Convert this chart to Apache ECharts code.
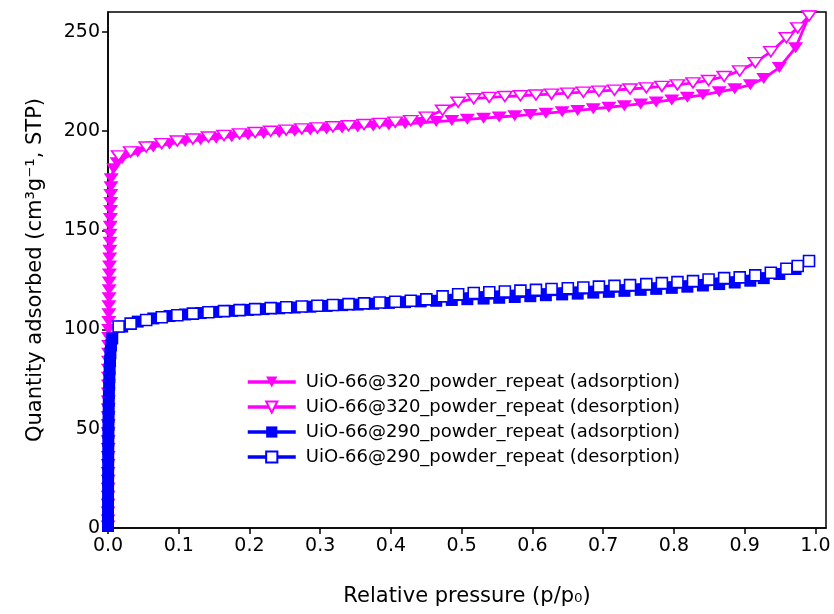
<!DOCTYPE html>
<html>
<head>
<meta charset="utf-8">
<script src="https://cdn.jsdelivr.net/npm/echarts@6.0.0/dist/echarts.min.js"></script>
<style>
html,body{margin:0;padding:0;background:#fff;}
#chart{width:834px;height:614px;}
</style>
</head>
<body>
<div id="chart"></div>
<script>
// ---- data (relative pressure p/p0, quantity adsorbed cm3/g STP) ----
const seriesNames = [
  'UiO-66@320_powder_repeat (adsorption)',
  'UiO-66@320_powder_repeat (desorption)',
  'UiO-66@290_powder_repeat (adsorption)',
  'UiO-66@290_powder_repeat (desorption)'
];

const pink320AdsP = [0.00001,0.00002,0.00003,0.00004,0.00005,0.00006,0.00008,0.0001,0.00012,0.00014,0.00016,0.00019,0.00022,0.00025,0.00028,0.00032,0.00036,0.0004,0.00045,0.0005,0.00056,0.00062,0.0007,0.00078,0.00087,0.00097,0.0011,0.0012,0.0013,0.0015,0.0016,0.0018,0.002,0.0022,0.0024,0.0026,0.0028,0.003,0.0032,0.0034,0.0036,0.0038,0.004,0.0042,0.0045,
  0.008,0.013,0.020,0.042,0.064,0.087,0.109,0.131,0.153,0.175,0.198,0.220,0.242,0.264,0.286,0.309,0.331,0.353,0.375,0.397,0.420,0.442,0.464,0.486,0.508,0.531,0.553,0.575,0.597,0.619,0.642,0.664,0.686,0.708,0.730,0.753,0.775,0.797,0.819,0.841,0.864,0.886,0.908,0.927,0.949,0.972,0.991];
const pink320AdsQ = [1,4,8,12,16,20,24,28,32,36,40,44,48,52,56,60,64,68,72,76,80,84,88,92,96,100,104,108,112,116,120,124,128,132,136,140,144,148,152,156,160,164,168,172,176,
  181,184,186,189.5,192,193.5,194.7,195.6,196.4,197.2,198,198.6,199.3,199.9,200.5,201,201.5,202,202.6,203.1,203.7,204.2,204.8,205.3,205.9,206.5,207.1,207.7,208.3,209,209.7,210.4,211.2,212,212.8,213.7,214.7,215.7,217,218.3,219.8,221.3,223.3,226.5,232,242,258];

const pink320DesP = [0.991,0.975,0.959,0.937,0.915,0.893,0.871,0.849,0.827,0.805,0.783,0.761,0.738,0.716,0.694,0.672,0.650,0.627,0.605,0.583,0.561,0.539,0.517,0.495,0.473,0.450,0.428,0.406,0.384,0.362,0.340,0.318,0.296,0.274,0.252,0.230,0.208,0.186,0.164,0.142,0.120,0.098,0.076,0.054,0.032,0.015];
const pink320DesQ = [258,252,247,240,234.5,230.3,227.5,225.5,224.3,223.3,222.5,221.8,221.2,220.6,220.1,219.6,219.1,218.6,218.2,217.8,217.4,217,216.3,214.5,210.5,207,205.3,204.5,203.9,203.3,202.7,202.2,201.6,201.1,200.5,199.9,199.3,198.6,197.8,197,196,195,193.7,192,189.5,187.5];

const blue290AdsP = [0.00001,0.00002,0.00004,0.00006,0.00009,0.00012,0.00016,0.0002,0.00025,0.0003,0.00037,0.00045,0.00055,0.00065,0.0008,0.00095,0.0011,0.0013,0.0016,0.0019,0.0023,0.0028,0.0034,0.0042,
  0.006,0.020,0.042,0.064,0.087,0.109,0.131,0.153,0.175,0.198,0.220,0.242,0.264,0.286,0.309,0.331,0.353,0.375,0.397,0.420,0.442,0.464,0.486,0.508,0.531,0.553,0.575,0.597,0.619,0.642,0.664,0.686,0.708,0.730,0.753,0.775,0.797,0.819,0.841,0.864,0.886,0.908,0.927,0.949,0.972,0.991];
const blue290AdsQ = [1,4,8,12,16,20,24,28,32,36,40,44,48,52,56,60,64,68,72,76,80,84,88,92,
  95.5,101.5,104,105.6,106.8,107.6,108.3,108.9,109.4,109.9,110.3,110.7,111.1,111.5,111.9,112.3,112.6,113,113.4,113.8,114.2,114.5,114.9,115.3,115.6,116,116.4,116.8,117.3,117.7,118.1,118.6,119,119.5,120,120.5,121,121.6,122.2,122.9,123.7,124.6,125.9,128,130.5,134.5];

const blue290DesP = [0.991,0.975,0.959,0.937,0.915,0.893,0.871,0.849,0.827,0.805,0.783,0.761,0.738,0.716,0.694,0.672,0.650,0.627,0.605,0.583,0.561,0.539,0.517,0.495,0.473,0.450,0.428,0.406,0.384,0.362,0.340,0.318,0.296,0.274,0.252,0.230,0.208,0.186,0.164,0.142,0.120,0.098,0.076,0.054,0.032,0.015];
const blue290DesQ = [134.5,132,130.6,128.6,127.3,126.3,125.9,125.2,124.4,123.9,123.4,122.9,122.4,122,121.6,121.2,120.8,120.4,120,119.6,119.2,118.8,118.4,117.8,116.7,115.2,114.5,114,113.6,113.2,112.8,112.4,112,111.6,111.2,110.8,110.3,109.8,109.3,108.7,108,107.2,106.2,104.8,103,101.5];

const xTickLabels = ['0.0','0.1','0.2','0.3','0.4','0.5','0.6','0.7','0.8','0.9','1.0'];
const yTickLabels = ['0','50','100','150','200','250'];

// ---- build chart ----
const zip = (xs, ys) => xs.map((x, i) => [x, ys[i]]);
const FONT = 'DejaVu Sans';
const PINK = '#FF00FF';
const BLUE = '#0000FF';

const chart = echarts.init(document.getElementById('chart'), null, {renderer: 'canvas'});

function makeSeries(name, data, color, symbol, rotate, size, open) {
  return {
    name: name,
    type: 'line',
    data: data,
    symbol: symbol,
    symbolRotate: rotate,
    symbolSize: size,
    showSymbol: true,
    clip: false,
    smooth: false,
    lineStyle: {color: color, width: 2.8},
    itemStyle: open
      ? {color: '#ffffff', borderColor: color, borderWidth: 1.6, opacity: 1}
      : {color: color, borderColor: color, borderWidth: 0, opacity: 1},
    emphasis: {disabled: true},
    animation: false
  };
}

const option = {
  animation: false,
  backgroundColor: '#ffffff',
  grid: {
    left: 108, right: 8, top: 12, bottom: 86,
    show: true, borderColor: '#000', borderWidth: 1.5,
    containLabel: false, outerBoundsMode: 'none'
  },
  legend: {
    show: true,
    orient: 'vertical',
    left: 246, top: 373,
    padding: 0,
    itemWidth: 48, itemHeight: 14, itemGap: 7,
    lineStyle: {width: 3.5},
    textStyle: {fontFamily: FONT, fontSize: 18, color: '#000', padding: [0,0,0,5]},
    data: seriesNames,
    selectedMode: false
  },
  xAxis: {
    type: 'value',
    min: 0, max: 1.015, interval: 0.1,
    name: 'Relative pressure (p/p₀)',
    nameLocation: 'middle', nameGap: 58,
    nameTextStyle: {fontFamily: FONT, fontSize: 21, color: '#000'},
    axisLine: {show: true, onZero: false, lineStyle: {color: '#000', width: 1.5}},
    axisTick: {show: true, inside: false, length: 6, lineStyle: {color: '#000', width: 1.5},
      customValues: xTickLabels.map(Number)},
    axisLabel: {show: true, fontFamily: FONT, fontSize: 19, color: '#000', margin: 9,
      customValues: xTickLabels.map(Number),
      formatter: v => Number(v).toFixed(1)},
    splitLine: {show: false}
  },
  yAxis: {
    type: 'value',
    min: 0, max: 260, interval: 50,
    name: 'Quantity adsorbed (cm³g⁻¹, STP)',
    nameLocation: 'middle', nameGap: 62, nameRotate: 90,
    nameTextStyle: {fontFamily: FONT, fontSize: 21, color: '#000'},
    axisLine: {show: true, onZero: false, lineStyle: {color: '#000', width: 1.5}},
    axisTick: {show: true, inside: false, length: 6, lineStyle: {color: '#000', width: 1.5},
      customValues: yTickLabels.map(Number)},
    axisLabel: {show: true, fontFamily: FONT, fontSize: 19, color: '#000', margin: 8,
      customValues: yTickLabels.map(Number)},
    splitLine: {show: false}
  },
  series: [
    makeSeries(seriesNames[0], zip(pink320AdsP, pink320AdsQ), PINK, 'triangle', 180, [15, 11], false),
    makeSeries(seriesNames[1], zip(pink320DesP, pink320DesQ), PINK, 'triangle', 180, [14, 10], true),
    makeSeries(seriesNames[2], zip(blue290AdsP, blue290AdsQ), BLUE, 'rect', 0, 12, false),
    makeSeries(seriesNames[3], zip(blue290DesP, blue290DesQ), BLUE, 'rect', 0, 11, true)
  ]
};
chart.setOption(option);
</script>
</body>
</html>
